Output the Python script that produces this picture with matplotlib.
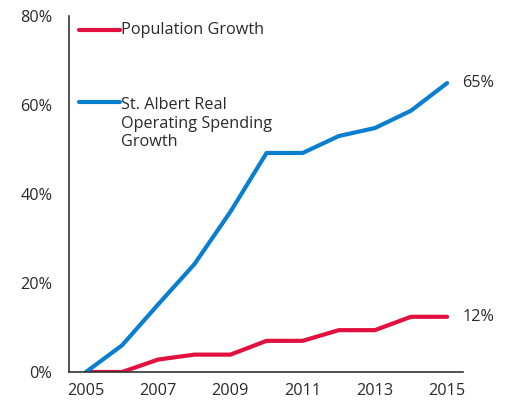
import matplotlib.pyplot as plt

years = [2005, 2006, 2007, 2008, 2009, 2010, 2011, 2012, 2013, 2014, 2015]
population_growth = [0, 0, 2.8, 3.9, 3.9, 7.0, 7.0, 9.4, 9.4, 12.4, 12.4]
spending_growth = [0, 6.0, 15.2, 24.2, 36.0, 49.2, 49.2, 53.0, 54.8, 58.7, 64.9]
y_ticks = [0, 20, 40, 60, 80]
x_ticks = [2005, 2007, 2009, 2011, 2013, 2015]

red = '#E2103F'
blue = '#0A7ECF'
text_col = '#2a2a2a'
fs = 11.7

plt.rcParams['font.family'] = ['Open Sans', 'DejaVu Sans']

fig = plt.figure(figsize=(5.09, 4.07), dpi=100)
ax = fig.add_axes([0.1356, 0.086, 0.774, 0.875])

ax.plot(years, population_growth, color=red, lw=3, solid_capstyle='round')
ax.plot(years, spending_growth, color=blue, lw=3, solid_capstyle='round')

ax.set_xlim(2004.53, 2015.44)
ax.set_ylim(0, 80)
ax.set_xticks(x_ticks)
ax.set_yticks(y_ticks)
ax.set_yticklabels([str(v) + '%' for v in y_ticks])
ax.tick_params(length=0, labelsize=fs, colors=text_col)
ax.tick_params(axis='y', pad=12)
ax.tick_params(axis='x', pad=8)
for s in ['top', 'right']:
    ax.spines[s].set_visible(False)
for s in ['left', 'bottom']:
    ax.spines[s].set_color('#333333')
    ax.spines[s].set_linewidth(1.2)

# end-of-line value labels
ax.text(years[-1] + 0.42, spending_growth[-1], '%.0f%%' % spending_growth[-1],
        fontsize=fs, color=text_col, va='center', ha='left', clip_on=False)
ax.text(years[-1] + 0.42, population_growth[-1], '%.0f%%' % population_growth[-1],
        fontsize=fs, color=text_col, va='center', ha='left', clip_on=False)

# hand-made legend in the upper left
ax.plot([2004.80, 2005.93], [76.8, 76.8], color=red, lw=3, solid_capstyle='round')
ax.text(2005.98, 76.8, 'Population Growth', fontsize=fs, color=text_col,
        va='center', ha='left')
ax.plot([2004.80, 2005.93], [60.6, 60.6], color=blue, lw=3, solid_capstyle='round')
ax.text(2005.98, 61.8, 'St. Albert Real\nOperating Spending\nGrowth', fontsize=fs,
        color=text_col, va='top', ha='left', linespacing=1.22)

fig.savefig('out.png', dpi=100)
